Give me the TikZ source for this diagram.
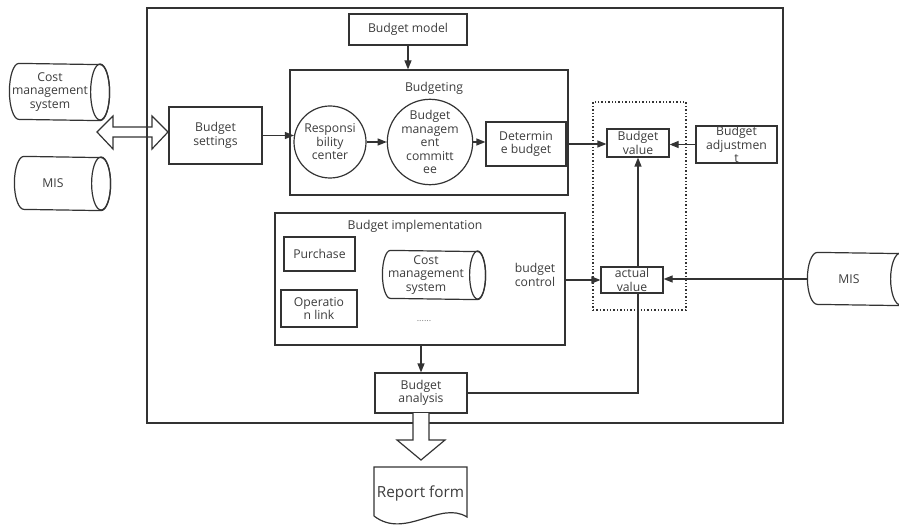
\documentclass[tikz,border=0pt]{standalone}
\usepackage{fontspec}
\setmainfont{Open Sans}
\usetikzlibrary{shapes.geometric,arrows.meta}
\definecolor{lc}{HTML}{333333}
\definecolor{tc}{HTML}{3C3C3C}
\newcommand\cylbody[3]{%
  \draw[draw=lc] (#1.north west) arc[start angle=90,end angle=270,x radius=#2pt,y radius=#3pt]
    -- (#1.south east) arc[start angle=-90,end angle=90,x radius=#2pt,y radius=#3pt] -- cycle;
  \draw[draw=lc] (#1.east) ellipse[x radius=#2pt,y radius=#3pt];}
\begin{document}
\begin{tikzpicture}[x=1pt,y=-1pt,line width=1.2pt,draw=lc,text=tc,
  font=\fontsize{12.2}{13.5}\selectfont,
  box/.style={draw=lc,rectangle,inner sep=0pt,align=center},
  circ/.style={draw=lc,circle,inner sep=0pt,align=center},
  body/.style={rectangle,inner sep=0pt},
  lbl/.style={inner sep=0pt,align=center},
  arr/.style={draw=lc,-{Triangle[length=9pt,width=7pt]}},
  ln/.style={draw=lc}]
\useasboundingbox (0,0) rectangle (899,526);
% outer frame
\node[box,minimum width=636pt,minimum height=415pt] (outer) at (465,215.5) {};
% left side
\node[body,minimum width=80pt,minimum height=56pt] (cms1) at (59.5,92) {};
\cylbody{cms1}{9.5}{28}
\node[lbl] (cms1t) at (50,92) {Cost\\management\\system};
\node[body,minimum width=76pt,minimum height=53pt] (mis1) at (62.5,183.5) {};
\cylbody{mis1}{9.5}{26.5}
\node[lbl] (mis1t) at (53,183.5) {MIS};
\draw[draw=lc] (97,132) -- (113,116) -- (113,127) -- (152,127) -- (152,116) -- (168,132)
  -- (152,149) -- (152,137) -- (113,137) -- (113,149) -- cycle;
\node[box,minimum width=93pt,minimum height=57pt] (bs) at (215.5,135.5) {Budget\\settings};
% budgeting
\node[box,minimum width=118pt,minimum height=31pt] (bm) at (408,29.5) {Budget model};
\node[box,minimum width=278pt,minimum height=125pt] (bgt) at (429,132.5) {};
\node[lbl] (bgtt) at (434,88) {Budgeting};
\node[circ,minimum size=72pt] (rc) at (330,142) {Responsi\\bility\\center};
\node[circ,minimum size=74pt] (bmc) at (430,142) {Budget\\managem\\ent\\committ\\ee};
\node[box,minimum width=80pt,minimum height=44pt] (db) at (526,144) {Determin\\e budget};
% dotted frame and values
\node[draw=lc,dotted,line width=1.4pt,rectangle,minimum width=93pt,minimum height=208pt] (dot) at (639.5,206) {};
\node[box,minimum width=62pt,minimum height=28pt] (bv) at (638,143) {Budget\\value};
\node[box,minimum width=81pt,minimum height=37pt] (badj) at (736.5,144.5) {Budget\\adjustmen\\t};
\node[box,minimum width=62pt,minimum height=26pt] (av) at (632,280) {actual\\value};
\node[body,minimum width=82pt,minimum height=52pt] (mis2) at (859,279) {};
\cylbody{mis2}{10}{26}
\coordinate (mis2w) at (808,279);
\node[lbl] (mis2t) at (849,279) {MIS};
% implementation
\node[box,minimum width=290pt,minimum height=132pt] (bi) at (420,279) {};
\node[lbl] (bit) at (415,226) {Budget implementation};
\node[box,minimum width=71pt,minimum height=34pt] (pu) at (319.5,254) {Purchase};
\node[box,minimum width=76pt,minimum height=37pt] (op) at (319,308.5) {Operatio\\n link};
\node[body,minimum width=86pt,minimum height=48pt] (cms2) at (434,275) {};
\cylbody{cms2}{8}{24}
\node[lbl] (cms2t) at (426,275) {Cost\\management\\system};
\node[lbl,text=gray,font=\fontsize{9}{10}\selectfont] (dots) at (424,321) {......};
\node[lbl] (bc) at (535,275) {budget\\control};
% analysis and report
\node[box,minimum width=92pt,minimum height=40pt] (ana) at (421,393) {Budget\\analysis};
\draw[draw=lc,fill=white] (413,413) -- (413,440) -- (397,440) -- (421,460) -- (445,440)
  -- (429,440) -- (429,413);
\node[lbl,font=\fontsize{15.3}{17}\selectfont] (rf) at (420.5,493) {Report form};
\draw[draw=lc] (374,516) -- (374,467) -- (467,467) -- (467,517)
  .. controls (440,500) and (405,540) .. (374,516);
% connectors
\draw[arr] (bm.south) -- (bm.south |- bgt.north);
\draw[arr] (bs.east) -- (bs.east -| rc.170);
\draw[arr] (rc.east) -- (bmc.west);
\draw[arr] (bmc.east) -- (bmc.east -| db.west);
\draw[arr] (db.east) -- (db.east -| bv.west);
\draw[arr] (badj.west) -- (badj.west -| bv.east);
\draw[arr] (av.west -| bi.east) -- (av.west);
\draw[arr] (mis2w) -- (mis2w -| av.east);
\draw[arr] (bi.south -| ana.north) -- (ana.north);
\draw[ln] (ana.east) -- (ana.east -| bv.south) -- (av.south -| bv.south);
\draw[arr] (av.north -| bv.south) -- (bv.south);
\end{tikzpicture}
\end{document}
